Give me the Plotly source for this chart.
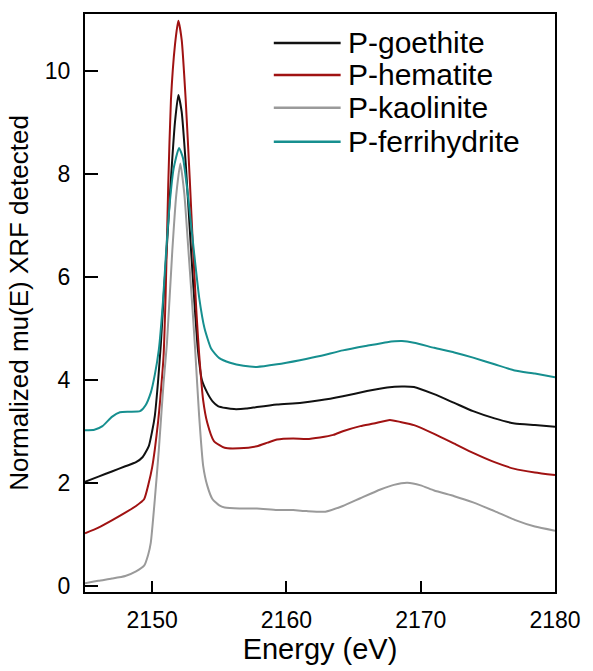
import plotly.graph_objects as go

# ---------------- data ----------------
series_names = ["P-goethite", "P-hematite", "P-kaolinite", "P-ferrihydrite"]
series_colors = ["#111111", "#a01212", "#9a9a9a", "#168f8f"]

goethite_e = [2145, 2146, 2147, 2148, 2148.8, 2149.3, 2149.75, 2150.0, 2150.2, 2150.45,
              2150.65, 2150.9, 2151.1, 2151.4, 2151.7, 2151.95, 2152.2, 2152.5, 2152.9,
              2153.2, 2153.4, 2153.7, 2154.1, 2154.5, 2154.9, 2155.5, 2156.1, 2157,
              2157.8, 2159.3, 2161, 2162.5, 2164.2, 2166, 2167.5, 2168.6, 2169.5, 2171,
              2172.5, 2173.9, 2175.5, 2177, 2178.5, 2180]
goethite_v = [2.02, 2.12, 2.22, 2.32, 2.40, 2.50, 2.71, 3.0, 3.3, 4.0,
              4.7, 5.8, 6.6, 7.9, 9.0, 9.53, 9.2, 8.2, 6.5,
              5.3, 4.6, 4.0, 3.75, 3.58, 3.49, 3.45, 3.43, 3.44,
              3.47, 3.52, 3.55, 3.60, 3.68, 3.78, 3.85, 3.87, 3.86, 3.72,
              3.55, 3.39, 3.25, 3.15, 3.12, 3.09]

hematite_e = [2145, 2146, 2147, 2148, 2148.8, 2149.4, 2149.75, 2150.0, 2150.2, 2150.45,
              2150.6, 2150.85, 2151.0, 2151.2, 2151.4, 2151.7, 2151.95, 2152.2, 2152.5,
              2152.8, 2153.05, 2153.3, 2153.5, 2153.8, 2154.1, 2154.6, 2155.4, 2156.5,
              2157.8, 2158.6, 2159.3, 2160.5, 2161.5, 2162.5, 2163.5, 2164.2, 2165.5,
              2166.5, 2167.7, 2168.5, 2169.5, 2171, 2172.5, 2173.9, 2175.5, 2177,
              2178.5, 2180]
hematite_v = [1.02, 1.13, 1.27, 1.42, 1.55, 1.68, 2.0, 2.3, 2.65, 3.2,
              3.62, 4.46, 5.6, 7.8, 9.43, 10.5, 10.97, 10.6, 9.43,
              7.9, 6.52, 5.3, 4.5, 3.6, 3.17, 2.81, 2.68, 2.67,
              2.71, 2.78, 2.84, 2.86, 2.85, 2.88, 2.93, 3.0, 3.1,
              3.15, 3.22, 3.18, 3.12, 2.95, 2.76, 2.58, 2.40, 2.27,
              2.20, 2.15]

kaolinite_e = [2145, 2146, 2147, 2148, 2148.8, 2149.4, 2149.7, 2149.9, 2150.2, 2150.5,
               2150.85, 2151.1, 2151.5, 2151.8, 2152.1, 2152.4, 2152.7, 2153.0, 2153.2,
               2153.5, 2153.8, 2154.1, 2154.5, 2155.0, 2155.4, 2156.5, 2157.8, 2159.3,
               2160.5, 2161.5, 2162.9, 2164.2, 2165.5, 2167, 2168, 2169, 2170, 2171,
               2172.5, 2173.9, 2175.5, 2177, 2178.5, 2180]
kaolinite_v = [0.05, 0.10, 0.14, 0.19, 0.28, 0.39, 0.6, 0.84, 1.68, 2.65,
               3.94, 4.7, 6.5, 7.6, 8.2, 7.6, 6.52, 5.4, 4.6,
               3.3, 2.33, 1.95, 1.68, 1.56, 1.52, 1.50, 1.50, 1.47,
               1.47, 1.45, 1.44, 1.55, 1.70, 1.87, 1.96, 2.0, 1.95, 1.85,
               1.74, 1.62, 1.45, 1.28, 1.15, 1.07]

ferrihydrite_e = [2145, 2145.7, 2146.3, 2147, 2147.6, 2148.3, 2149.1, 2149.5, 2149.9, 2150.2,
                  2150.5, 2150.8, 2151.05, 2151.3, 2151.6, 2152.0, 2152.3, 2152.7, 2153.1,
                  2153.5, 2153.9, 2154.4, 2155.0, 2155.8, 2156.8, 2157.8, 2159.3, 2161,
                  2162.5, 2164.2, 2166, 2167.5, 2168.6, 2169.5, 2171, 2172.5, 2173.9,
                  2175.5, 2177, 2178.5, 2180]
ferrihydrite_v = [3.02, 3.03, 3.10, 3.28, 3.37, 3.38, 3.39, 3.5, 3.75, 4.1,
                  4.59, 5.5, 6.52, 7.4, 8.1, 8.5, 8.3, 7.5, 6.52,
                  5.6, 5.0, 4.6, 4.42, 4.33, 4.27, 4.25, 4.30, 4.38,
                  4.46, 4.57, 4.66, 4.73, 4.75, 4.72, 4.62, 4.53, 4.43,
                  4.30, 4.18, 4.12, 4.05]

x_ticks = [2150, 2160, 2170, 2180]
y_ticks = [0, 2, 4, 6, 8, 10]

energies = [goethite_e, hematite_e, kaolinite_e, ferrihydrite_e]
values = [goethite_v, hematite_v, kaolinite_v, ferrihydrite_v]

FONT = "Arial, 'Liberation Sans', sans-serif"

fig = go.Figure()
for name, col, e, v in zip(series_names, series_colors, energies, values):
    fig.add_trace(go.Scatter(x=e, y=v, mode="lines", name=name,
                             line=dict(color=col, width=2, shape="spline", smoothing=0.5),
                             showlegend=False))

# custom legend (long line samples like the reference)
leg_y = [0.950, 0.8946, 0.8377, 0.7789]
for name, col, yy in zip(series_names, series_colors, leg_y):
    fig.add_shape(type="line", xref="paper", yref="paper",
                  x0=0.4017, x1=0.5439, y0=yy, y1=yy,
                  line=dict(color=col, width=2.5))
    fig.add_annotation(xref="paper", yref="paper", x=0.5544, y=yy,
                       text=name, showarrow=False, xanchor="left", yanchor="middle",
                       font=dict(family=FONT, size=30, color="#000000"))

fig.update_layout(
    width=593, height=671,
    margin=dict(l=85, r=30, t=14, b=78),
    paper_bgcolor="white", plot_bgcolor="white",
    font=dict(family=FONT, color="#000000"),
)
fig.update_xaxes(range=[2145, 2180], tickvals=x_ticks, ticktext=[str(t) for t in x_ticks],
                 showgrid=False, zeroline=False, showline=True, mirror=True,
                 linecolor="#000000", linewidth=2, ticks="inside", ticklen=11,
                 tickwidth=2, tickcolor="#000000",
                 tickfont=dict(family=FONT, size=23), ticklabelstandoff=6,
                 title=dict(text="Energy (eV)", font=dict(family=FONT, size=29), standoff=6))
fig.update_yaxes(range=[-0.12, 11.1], tickvals=y_ticks, ticktext=[str(t) for t in y_ticks],
                 showgrid=False, zeroline=False, showline=True, mirror=True,
                 linecolor="#000000", linewidth=2, ticks="inside", ticklen=13,
                 tickwidth=2, tickcolor="#000000",
                 tickfont=dict(family=FONT, size=23), ticklabelstandoff=8,
                 title=dict(text="Normalized mu(E) XRF detected", font=dict(family=FONT, size=26),
                            standoff=9))

fig.write_html("out.html")
